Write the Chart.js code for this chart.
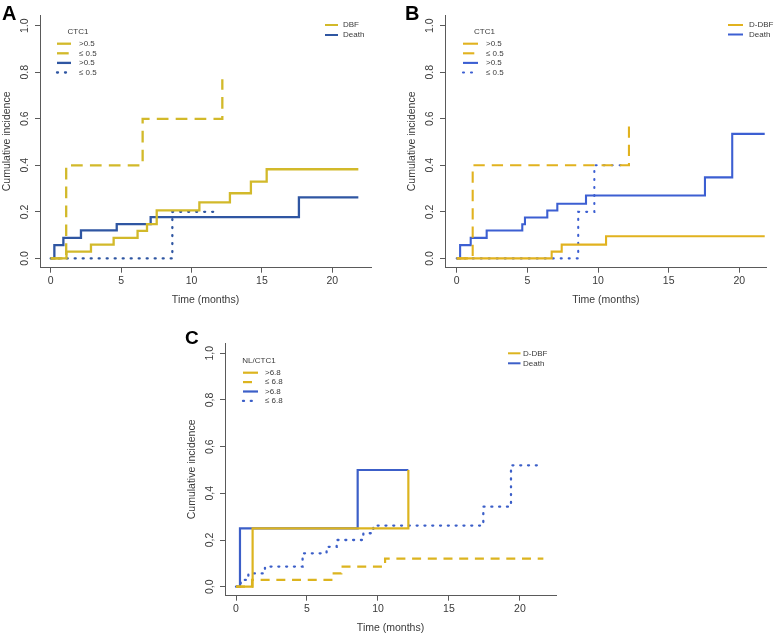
<!DOCTYPE html>
<html>
<head>
<meta charset="utf-8">
<script src="https://cdn.jsdelivr.net/npm/chart.js@4.4.0/dist/chart.umd.min.js"></script>
<style>
  html, body { margin: 0; padding: 0; background: #fff; }
  #wrap { position: relative; width: 779px; height: 636px; }
  #wrap canvas { position: absolute; left: 0; top: 0; }
</style>
</head>
<body>
<div id="wrap">
  <canvas id="chartA" width="779" height="636"></canvas>
  <canvas id="chartB" width="779" height="636"></canvas>
  <canvas id="chartC" width="779" height="636"></canvas>
</div>
<script>
// axis ticks and labels
const xTicks = [0, 5, 10, 15, 20];
const yTicks = [0, 0.2, 0.4, 0.6, 0.8, 1.0];
const yTickLabelsAB = ['0.0', '0.2', '0.4', '0.6', '0.8', '1.0'];
const yTickLabelsC = ['0,0', '0,2', '0,4', '0,6', '0,8', '1,0'];
const xTitle = 'Time (months)';
const yTitle = 'Cumulative incidence';

// panel A - CTC1 (time in months, cumulative incidence)
const aDbfHighT = [0, 1.12, 2.86, 4.47, 6.17, 6.84, 7.53, 10.56, 12.73, 14.22, 15.34, 21.85];
const aDbfHighY = [0, 0.029, 0.059, 0.088, 0.118, 0.147, 0.206, 0.241, 0.28, 0.33, 0.383, 0.383];
const aDbfLowT = [0, 1.1, 6.53, 12.19];
const aDbfLowY = [0, 0.4, 0.6, 0.77];
const aDeathHighT = [0, 0.26, 0.9, 2.15, 4.69, 7.1, 17.63, 21.85];
const aDeathHighY = [0, 0.057, 0.088, 0.12, 0.147, 0.177, 0.262, 0.262];
const aDeathLowT = [0, 8.64, 11.83];
const aDeathLowY = [0, 0.2, 0.2];
const aGroupTitle = 'CTC1';
const aGroupLabels = ['>0.5', '\u2264 0.5', '>0.5', '\u2264 0.5'];
const aEventLabels = ['DBF', 'Death'];

// panel B - CTC1
const bDbfHighT = [0, 6.72, 7.43, 10.57, 21.8];
const bDbfHighY = [0, 0.029, 0.059, 0.095, 0.095];
const bDbfLowT = [0, 1.13, 12.19];
const bDbfLowY = [0, 0.4, 0.573];
const bDeathHighT = [0, 0.24, 0.99, 2.12, 4.64, 4.83, 6.41, 7.12, 9.15, 17.57, 19.5, 21.8];
const bDeathHighY = [0, 0.057, 0.088, 0.12, 0.147, 0.176, 0.206, 0.235, 0.27, 0.348, 0.535, 0.535];
const bDeathLowT = [0, 8.6, 9.74, 11.8];
const bDeathLowY = [0, 0.2, 0.4, 0.4];
const bGroupTitle = 'CTC1';
const bGroupLabels = ['>0.5', '\u2264 0.5', '>0.5', '\u2264 0.5'];
const bEventLabels = ['D-DBF', 'Death'];

// panel C - NL/CTC1
const cDbfHighT = [0, 1.17, 12.14];
const cDbfHighY = [0, 0.25, 0.5];
const cDbfLowT = [0, 1.13, 6.8, 7.42, 10.5, 21.65];
const cDbfLowY = [0, 0.029, 0.057, 0.086, 0.12, 0.12];
const cDeathHighT = [0, 0.28, 8.57, 12.14];
const cDeathHighY = [0, 0.25, 0.5, 0.5];
const cDeathLowT = [0, 0.33, 0.87, 2.04, 4.69, 6.38, 7.09, 8.97, 9.67, 17.42, 19.37, 21.3];
const cDeathLowY = [0, 0.029, 0.057, 0.086, 0.143, 0.171, 0.2, 0.229, 0.262, 0.343, 0.52, 0.52];
const cGroupTitle = 'NL/CTC1';
const cGroupLabels = ['>6.8', '\u2264 6.8', '>6.8', '\u2264 6.8'];
const cEventLabels = ['D-DBF', 'Death'];

const FONT = '"Liberation Sans", Arial, Helvetica, sans-serif';
const AXIS = '#5a5a5a';
const TEXT = '#3a3a3a';

function pts(t, y) {
  return t.map((v, i) => ({ x: v, y: y[i] }));
}

function line(t, y, color, dash, width, round) {
  return {
    data: pts(t, y),
    borderColor: color,
    borderWidth: width,
    borderDash: dash,
    borderCapStyle: round ? 'round' : 'butt',
    borderJoinStyle: 'miter',
    stepped: true,
    pointRadius: 0,
    fill: false
  };
}

// legends and panel letter, drawn over the plot
const decor = {
  id: 'decor',
  afterDraw(chart, args, o) {
    const ctx = chart.ctx;
    const dsets = chart.data.datasets;
    ctx.save();
    ctx.fillStyle = '#000';
    ctx.font = 'bold ' + o.letter.size + 'px ' + FONT;
    ctx.textAlign = 'left';
    ctx.textBaseline = 'alphabetic';
    ctx.fillText(o.letter.text, o.letter.x, o.letter.y);

    // group legend (top left)
    const g = o.group;
    ctx.fillStyle = TEXT;
    ctx.font = '8px ' + FONT;
    ctx.textAlign = 'center';
    ctx.textBaseline = 'middle';
    ctx.fillText(g.title, g.titleX, g.titleY);
    g.labels.forEach((lab, i) => {
      const d = dsets[i];
      const y = g.y0 + i * g.dy;
      ctx.strokeStyle = d.borderColor;
      ctx.lineWidth = d.borderWidth;
      ctx.lineCap = d.borderCapStyle;
      ctx.setLineDash(d.borderDash);
      ctx.beginPath();
      ctx.moveTo(g.x1, y);
      ctx.lineTo(g.x2, y);
      ctx.stroke();
      ctx.setLineDash([]);
      ctx.textAlign = 'left';
      ctx.fillText(lab, g.tx, y);
    });

    // event legend (top right)
    const e = o.event;
    ctx.font = '8px ' + FONT;
    e.labels.forEach((lab, i) => {
      const y = e.y0 + i * e.dy;
      ctx.strokeStyle = e.colors[i];
      ctx.lineWidth = 2;
      ctx.lineCap = 'butt';
      ctx.beginPath();
      ctx.moveTo(e.x1, y);
      ctx.lineTo(e.x2, y);
      ctx.stroke();
      ctx.textAlign = 'left';
      ctx.fillText(lab, e.tx, y);
    });
    ctx.restore();
  }
};

function makePanel(id, p) {
  const tickFont = { family: FONT, size: 10.5 };
  new Chart(document.getElementById(id), {
    type: 'line',
    data: { datasets: p.datasets },
    plugins: [decor],
    options: {
      responsive: false,
      animation: false,
      devicePixelRatio: 1,
      layout: { padding: p.padding },
      plugins: {
        legend: { display: false },
        tooltip: { enabled: false },
        decor: p.decor
      },
      scales: {
        x: {
          type: 'linear',
          min: p.xMin,
          max: p.xMax,
          afterBuildTicks: s => { s.ticks = xTicks.map(v => ({ value: v })); },
          afterFit: s => { s.height = 40; },
          grid: { drawOnChartArea: false, drawTicks: true, tickLength: 5, color: AXIS, tickColor: AXIS, lineWidth: 1 },
          border: { display: true, color: AXIS, width: 1 },
          ticks: { font: tickFont, color: TEXT, padding: 2.3, autoSkip: false, maxRotation: 0, minRotation: 0, callback: v => String(v) },
          title: { display: true, text: xTitle, font: tickFont, color: TEXT, padding: { top: 0, bottom: 0.9 } }
        },
        y: {
          type: 'linear',
          min: p.yMin,
          max: p.yMax,
          afterBuildTicks: s => { s.ticks = yTicks.map(v => ({ value: v })); },
          afterFit: s => { s.width = 40; },
          grid: { drawOnChartArea: false, drawTicks: true, tickLength: 5, color: AXIS, tickColor: AXIS, lineWidth: 1 },
          border: { display: true, color: AXIS, width: 1 },
          ticks: { font: tickFont, color: TEXT, padding: 2.9, minRotation: 90, maxRotation: 90, crossAlign: 'center', autoSkip: false, callback: (v, i) => p.yLabels[i] },
          title: { display: true, text: yTitle, font: tickFont, color: TEXT, padding: { top: 0.4, bottom: 0 } }
        }
      }
    }
  });
}

// panel A
const aGold = '#d2b92a', aBlue = '#2f56a2';
makePanel('chartA', {
  padding: { left: 0, right: 408, top: 15, bottom: 328.3 },
  xMin: -0.76, xMax: 22.75, yMin: -0.04, yMax: 1.046,
  yLabels: yTickLabelsAB,
  datasets: [
    line(aDbfHighT, aDbfHighY, aGold, [], 2.3, false),
    line(aDbfLowT, aDbfLowY, aGold, [11.7, 7.2], 2.3, false),
    line(aDeathHighT, aDeathHighY, aBlue, [], 2.3, false),
    line(aDeathLowT, aDeathLowY, aBlue, [1, 7], 2.3, true)
  ],
  decor: {
    letter: { text: 'A', x: 2, y: 20, size: 20 },
    group: { title: aGroupTitle, titleX: 78, titleY: 32, labels: aGroupLabels, x1: 57, x2: 71, tx: 79, y0: 43.7, dy: 9.6 },
    event: { labels: aEventLabels, colors: [aGold, aBlue], x1: 325, x2: 338, tx: 343, y0: 25, dy: 10 }
  }
});

// panel B
const bGold = '#e1b21f', bBlue = '#3c5fd2';
makePanel('chartB', {
  padding: { left: 405, right: 12.3, top: 15, bottom: 328.3 },
  xMin: -0.83, xMax: 21.94, yMin: -0.04, yMax: 1.046,
  yLabels: yTickLabelsAB,
  datasets: [
    line(bDbfHighT, bDbfHighY, bGold, [], 2.1, false),
    line(bDbfLowT, bDbfLowY, bGold, [11.3, 7], 2.1, false),
    line(bDeathHighT, bDeathHighY, bBlue, [], 2.1, false),
    line(bDeathLowT, bDeathLowY, bBlue, [1, 7], 2.1, true)
  ],
  decor: {
    letter: { text: 'B', x: 405, y: 20, size: 20 },
    group: { title: bGroupTitle, titleX: 484.5, titleY: 32, labels: bGroupLabels, x1: 463, x2: 478, tx: 486, y0: 43.7, dy: 9.6 },
    event: { labels: bEventLabels, colors: [bGold, bBlue], x1: 728, x2: 743, tx: 749, y0: 25, dy: 9.5 }
  }
});

// panel C
const cGold = '#dcb41f', cBlue = '#3c5fc8';
makePanel('chartC', {
  padding: { left: 185, right: 223, top: 343, bottom: 0.3 },
  xMin: -0.775, xMax: 22.54, yMin: -0.0386, yMax: 1.044,
  yLabels: yTickLabelsC,
  datasets: [
    line(cDbfHighT, cDbfHighY, cGold, [], 2.2, false),
    line(cDbfLowT, cDbfLowY, cGold, [9, 6.7], 2.2, false),
    line(cDeathHighT, cDeathHighY, cBlue, [], 2.2, false),
    line(cDeathLowT, cDeathLowY, cBlue, [1, 6.8], 2.3, true)
  ],
  decor: {
    letter: { text: 'C', x: 185, y: 344, size: 19 },
    group: { title: cGroupTitle, titleX: 259, titleY: 361, labels: cGroupLabels, x1: 243, x2: 258, tx: 265, y0: 372.7, dy: 9.4 },
    event: { labels: cEventLabels, colors: [cGold, cBlue], x1: 508, x2: 520.5, tx: 523, y0: 353.3, dy: 10 }
  }
});
</script>
</body>
</html>
